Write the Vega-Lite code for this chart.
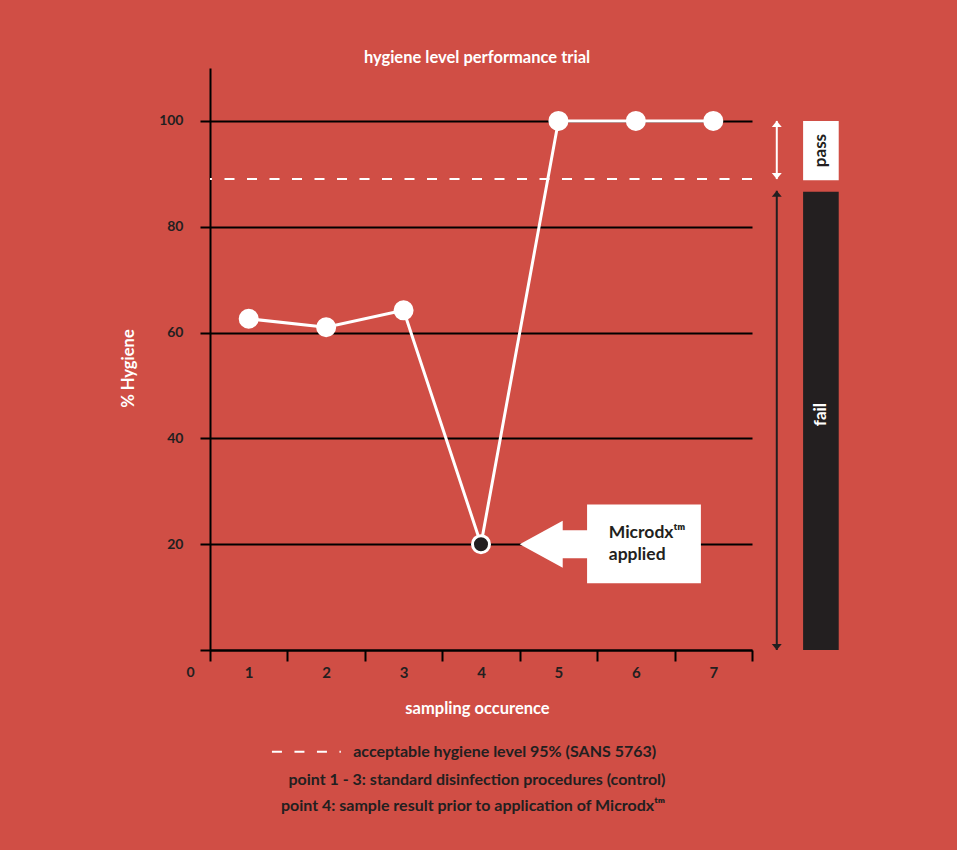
{
  "$schema": "https://vega.github.io/schema/vega-lite/v6.json",
  "width": 542,
  "height": 582,
  "autosize": {"type": "none"},
  "padding": {"left": 210, "top": 68, "right": 205, "bottom": 200},
  "background": "#d04e45",
  "config": {"view": {"stroke": null}, "font": "Lato"},
  "title": {
    "text": "hygiene level performance trial",
    "color": "white",
    "fontSize": 16.5,
    "fontWeight": "bold",
    "font": "Lato",
    "anchor": "middle",
    "frame": "group",
    "offset": 2,
    "dx": -4
  },
  "layer": [
    {
      "data": {"values": [{"y": 89}]},
      "mark": {"type": "rule", "color": "white", "strokeWidth": 2, "strokeDash": [10, 12.5]},
      "encoding": {"y": {"field": "y", "type": "quantitative"}}
    },
    {
      "data": {"name": "samples", "values": [
        {"x": 1, "y": 62.6},
        {"x": 2, "y": 61},
        {"x": 3, "y": 64.2},
        {"x": 4, "y": 20},
        {"x": 5, "y": 100},
        {"x": 6, "y": 100},
        {"x": 7, "y": 100}
      ]},
      "mark": {"type": "line", "color": "white", "strokeWidth": 3},
      "encoding": {
        "x": {
          "field": "x", "type": "quantitative",
          "scale": {"domain": [0.5, 7.5], "nice": false, "zero": false},
          "axis": {
            "values": [0.5, 1.5, 2.5, 3.5, 4.5, 5.5, 6.5, 7.5],
            "labelExpr": "datum.value < 7 ? '' + (datum.value + 0.5) : ''",
            "labelOffset": 38.7,
            "labelOverlap": false,
            "labelFlush": false,
            "grid": false,
            "domainColor": "#000",
            "domainWidth": 2,
            "tickColor": "#000",
            "tickWidth": 2,
            "tickSize": 11,
            "labelColor": "#231f20",
            "labelFont": "Lato",
            "labelFontSize": 15,
            "labelFontWeight": "bold",
            "labelPadding": 11,
            "labelBaseline": "middle",
            "title": "sampling occurence",
            "titleColor": "white",
            "titleFont": "Lato",
            "titleFontSize": 16.5,
            "titleFontWeight": "bold",
            "titleX": 267,
            "titleY": 58,
            "titleBaseline": "middle",
            "titleAlign": "center"
          }
        },
        "y": {
          "field": "y", "type": "quantitative",
          "scale": {"domain": [0, 110], "nice": false, "zero": false},
          "axis": {
            "values": [0, 20, 40, 60, 80, 100],
            "grid": true,
            "gridColor": "#000",
            "gridWidth": 2,
            "domainColor": "#000",
            "domainWidth": 2,
            "tickColor": "#000",
            "tickWidth": 2,
            "tickSize": 10,
            "labelColor": "#231f20",
            "labelFont": "Lato",
            "labelFontSize": 14,
            "labelFontWeight": "bold",
            "labelPadding": {"condition": {"test": "datum.value == 0", "value": 6}, "value": 17},
            "labelOffset": {"condition": {"test": "datum.value == 0", "value": 22}, "value": 0},
            "title": "% Hygiene",
            "titleColor": "white",
            "titleFont": "Lato",
            "titleFontSize": 16.5,
            "titleFontWeight": "bold",
            "titleX": -82,
            "titleY": 300,
            "titleAngle": 270,
            "titleBaseline": "middle",
            "titleAlign": "center"
          }
        }
      }
    },
    {
      "data": {"name": "samples"},
      "mark": {"type": "point", "shape": "circle", "filled": true, "size": 290, "opacity": 1, "strokeWidth": 3},
      "encoding": {
        "x": {"field": "x", "type": "quantitative"},
        "y": {"field": "y", "type": "quantitative"},
        "fill": {"condition": {"test": "datum.x == 4", "value": "#231f20"}, "value": "white"},
        "stroke": {"value": "white"}
      }
    },
    {
      "data": {"values": [
        {"x": 7.82, "y": 100, "y2": 89, "k": "pass"},
        {"x": 7.82, "y": 86.8, "y2": 0, "k": "fail"}
      ]},
      "mark": {"type": "rule", "strokeWidth": 2},
      "encoding": {
        "x": {"field": "x", "type": "quantitative"},
        "y": {"field": "y", "type": "quantitative"},
        "y2": {"field": "y2"},
        "color": {"condition": {"test": "datum.k == 'pass'", "value": "white"}, "value": "#231f20"}
      }
    },
    {
      "data": {"values": [
        {"x": 7.82, "y": 100, "k": "pass", "end": "up"},
        {"x": 7.82, "y": 89, "k": "pass", "end": "down"},
        {"x": 7.82, "y": 86.8, "k": "fail", "end": "up"},
        {"x": 7.82, "y": 0, "k": "fail", "end": "down"}
      ]},
      "mark": {"type": "point", "filled": true, "size": 4, "opacity": 1},
      "encoding": {
        "x": {"field": "x", "type": "quantitative"},
        "y": {"field": "y", "type": "quantitative"},
        "shape": {
          "field": "end", "type": "nominal",
          "scale": {"domain": ["up", "down"], "range": ["M0,0L-5,6L5,6Z", "M0,0L-5,-6L5,-6Z"]},
          "legend": null
        },
        "color": {"condition": {"test": "datum.k == 'pass'", "value": "white"}, "value": "#231f20"}
      }
    },
    {
      "data": {"values": [
        {"x": 8.16, "x2": 8.62, "y": 100, "y2": 88.8, "k": "pass"},
        {"x": 8.16, "x2": 8.62, "y": 86.6, "y2": 0, "k": "fail"}
      ]},
      "mark": {"type": "rect"},
      "encoding": {
        "x": {"field": "x", "type": "quantitative"},
        "x2": {"field": "x2"},
        "y": {"field": "y", "type": "quantitative"},
        "y2": {"field": "y2"},
        "color": {"condition": {"test": "datum.k == 'pass'", "value": "white"}, "value": "#231f20"}
      }
    },
    {
      "data": {"values": [
        {"x": 8.39, "y": 94.4, "label": "pass", "k": "pass"},
        {"x": 8.39, "y": 44.5, "label": "fail", "k": "fail"}
      ]},
      "mark": {"type": "text", "angle": 270, "font": "Lato", "fontSize": 17, "fontWeight": "bold", "align": "center", "baseline": "middle"},
      "encoding": {
        "x": {"field": "x", "type": "quantitative"},
        "y": {"field": "y", "type": "quantitative"},
        "text": {"field": "label"},
        "color": {"condition": {"test": "datum.k == 'pass'", "value": "#231f20"}, "value": "white"}
      }
    },
    {
      "data": {"values": [{"x": 4.5, "y": 20}]},
      "mark": {"type": "point", "filled": true, "size": 4, "opacity": 1, "color": "white",
        "shape": "M0,0L43,-23.5L43,-14L69,-14L69,14L43,14L43,23.5Z"},
      "encoding": {
        "x": {"field": "x", "type": "quantitative"},
        "y": {"field": "y", "type": "quantitative"}
      }
    },
    {
      "data": {"values": [{"x": 5.37, "x2": 6.84, "y": 27.5, "y2": 12.6}]},
      "mark": {"type": "rect", "color": "white"},
      "encoding": {
        "x": {"field": "x", "type": "quantitative"},
        "x2": {"field": "x2"},
        "y": {"field": "y", "type": "quantitative"},
        "y2": {"field": "y2"}
      }
    },
    {
      "data": {"values": [
        {"x": 5.65, "y": 22.1, "label": "Microdxᵗᵐ"},
        {"x": 5.65, "y": 17.9, "label": "applied"}
      ]},
      "mark": {"type": "text", "font": "Lato", "fontSize": 17.5, "fontWeight": "bold", "align": "left", "baseline": "middle", "color": "#231f20"},
      "encoding": {
        "x": {"field": "x", "type": "quantitative"},
        "y": {"field": "y", "type": "quantitative"},
        "text": {"field": "label"}
      }
    },
    {
      "data": {"values": [{"x": 1.3, "x2": 2.19, "y": -19.25}]},
      "mark": {"type": "rule", "color": "white", "strokeWidth": 2, "strokeDash": [10, 12.5]},
      "encoding": {
        "x": {"field": "x", "type": "quantitative"},
        "x2": {"field": "x2"},
        "y": {"field": "y", "type": "quantitative"}
      }
    },
    {
      "data": {"values": [
        {"x": 2.35, "y": -19.25, "label": "acceptable hygiene level 95% (SANS 5763)"}
      ]},
      "mark": {"type": "text", "font": "Lato", "fontSize": 16, "fontWeight": "bold", "align": "left", "baseline": "middle", "color": "#231f20"},
      "encoding": {
        "x": {"field": "x", "type": "quantitative"},
        "y": {"field": "y", "type": "quantitative"},
        "text": {"field": "label"}
      }
    },
    {
      "data": {"values": [
        {"x": 3.948, "y": -24.53, "label": "point 1 - 3: standard disinfection procedures (control)"},
        {"x": 3.897, "y": -29.43, "label": "point 4: sample result prior to application of Microdxᵗᵐ"}
      ]},
      "mark": {"type": "text", "font": "Lato", "fontSize": 16, "fontWeight": "bold", "align": "center", "baseline": "middle", "color": "#231f20"},
      "encoding": {
        "x": {"field": "x", "type": "quantitative"},
        "y": {"field": "y", "type": "quantitative"},
        "text": {"field": "label"}
      }
    }
  ]
}
